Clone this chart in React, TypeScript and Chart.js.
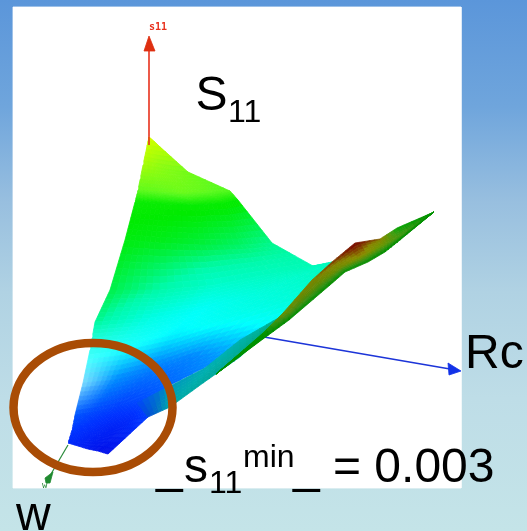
import React, { useEffect, useRef } from "react";
import { Chart, registerables } from "chart.js";

Chart.register(...registerables);

// Plot frame
const panelX = [13, 461, 461, 13, 13];
const panelY = [7, 7, 488, 488, 7];

// Main S11 surface: rows run from the far corner to the near corner, columns from left edge to ridge
const surfaceX = [
  [149, 149, 149, 149, 149],
  [143, 154, 165, 177, 188],
  [138, 160, 183, 207, 230],
  [135, 165, 195, 225, 238],
  [125, 160, 200, 240, 272],
  [110, 160, 215, 265, 313],
  [95, 150, 200, 255, 332],
  [90, 130, 175, 225, 300],
  [83, 115, 150, 190, 250],
  [75, 95, 118, 140, 170],
  [72, 90, 110, 130, 148],
  [68, 78, 88, 98, 108],
];
const surfaceY = [
  [137, 137, 137, 137, 137],
  [165, 167, 169, 171, 172],
  [190, 192, 193, 192, 191],
  [202, 204, 205, 203, 200],
  [240, 243, 245, 245, 243],
  [290, 290, 285, 275, 266],
  [322, 318, 310, 295, 262],
  [350, 345, 335, 320, 298],
  [383, 380, 372, 358, 345],
  [415, 412, 407, 398, 385],
  [430, 432, 430, 420, 417],
  [443, 446, 449, 451, 454],
];
const surfaceValue = [
  [0.87, 0.87, 0.87, 0.87, 0.87],
  [0.81, 0.79, 0.77, 0.76, 0.75],
  [0.73, 0.73, 0.74, 0.73, 0.71],
  [0.63, 0.63, 0.63, 0.63, 0.63],
  [0.61, 0.6, 0.58, 0.55, 0.52],
  [0.57, 0.5, 0.44, 0.46, 0.48],
  [0.52, 0.4, 0.36, 0.41, 0.47],
  [0.38, 0.36, 0.34, 0.37, 0.42],
  [0.29, 0.25, 0.22, 0.24, 0.3],
  [0.17, 0.15, 0.14, 0.16, 0.2],
  [0.13, 0.1, 0.08, 0.1, 0.14],
  [0.1, 0.08, 0.06, 0.04, 0.03],
];
const surfaceShade = [
  [1, 1, 1, 1, 1],
  [1, 1, 1, 1, 1],
  [1, 1, 1, 1, 1],
  [1, 1, 1, 1, 1],
  [1, 1, 1, 1, 1],
  [1, 1, 1, 1, 1],
  [1, 1, 1, 1, 1],
  [1.1, 1.05, 1, 1, 1],
  [1.25, 1, 1, 1, 1],
  [1, 1, 1, 1, 1],
  [1, 1, 1, 1, 1],
  [1, 1, 1, 1, 1],
];

// Shaded side strip along the lower edge
const stripX = [
  [137, 148],
  [170, 170],
  [205, 203],
  [240, 240],
  [280, 280],
];
const stripY = [
  [403, 417],
  [386, 407],
  [368, 383],
  [340, 357],
  [317, 320],
];
const stripValue = [
  [0.15, 0.17],
  [0.3, 0.35],
  [0.34, 0.37],
  [0.36, 0.42],
  [0.45, 0.5],
];
const stripShade = [
  [0.98, 0.85],
  [0.75, 0.66],
  [0.7, 0.66],
  [0.7, 0.66],
  [0.72, 0.66],
];

// Ridge toward high Rc: upper edge, crest, lower edge
const ridgeX = [
  [216, 216, 216],
  [263, 263, 263],
  [283, 290, 289],
  [312, 320, 330],
  [332, 340, 345],
  [355, 362, 368],
  [380, 385, 385],
  [397, 402, 400],
  [434, 434, 434],
];
const ridgeY = [
  [374, 374, 374],
  [333, 336, 339],
  [313, 314, 320],
  [280, 284, 285],
  [262, 268, 272],
  [243, 255, 262],
  [239, 245, 252],
  [228, 235, 240],
  [212, 212, 212],
];
const ridgeValue = [
  [0.62, 0.62, 0.62],
  [0.62, 0.62, 0.62],
  [0.85, 0.75, 0.62],
  [0.93, 0.8, 0.62],
  [0.97, 0.85, 0.62],
  [1, 0.93, 0.62],
  [0.95, 0.8, 0.62],
  [0.62, 0.75, 0.62],
  [0.62, 0.62, 0.62],
];
const ridgeShade = [
  [0.62, 0.62, 0.62],
  [0.65, 0.62, 0.62],
  [0.55, 0.55, 0.6],
  [0.5, 0.55, 0.6],
  [0.5, 0.55, 0.6],
  [0.47, 0.55, 0.6],
  [0.5, 0.6, 0.6],
  [0.7, 0.6, 0.6],
  [0.62, 0.62, 0.62],
];

// Colour scale: value, r, g, b
const scaleStops = [
  [0, 0, 0, 225],
  [0.12, 0, 50, 255],
  [0.25, 0, 140, 255],
  [0.35, 0, 255, 255],
  [0.5, 0, 250, 170],
  [0.62, 0, 235, 0],
  [0.72, 90, 250, 30],
  [0.85, 200, 255, 0],
  [0.92, 255, 255, 0],
  [1, 255, 0, 0],
];

// Axes
const s11AxisX = [149, 149];
const s11AxisY = [145, 50];
const s11HeadX = [149, 144, 155];
const s11HeadY = [36, 51, 51];
const rcAxisX = [264, 450];
const rcAxisY = [337, 369];
const rcHeadX = [461, 448, 449];
const rcHeadY = [371, 363, 375];
const wAxisX = [68, 51];
const wAxisY = [445, 474];
const wHeadX = [53, 45, 46, 50];
const wHeadY = [472, 478, 483, 483];

const backgroundStops = [
  [0, "#5b96da"],
  [0.2, "#6fa5dc"],
  [0.38, "#98bfdf"],
  [0.55, "#b0d2e3"],
  [0.75, "#bedde7"],
  [1, "#c4e4e8"],
];

const labels = [
  { text: "S", x: 195.5, y: 110, font: "48px 'Liberation Sans'", color: "#000" },
  { text: "11", x: 228, y: 122, font: "32px 'Liberation Sans'", color: "#000" },
  { text: "_", x: 156, y: 482, font: "48px 'Liberation Sans'", color: "#000" },
  { text: "s", x: 184, y: 482, font: "48px 'Liberation Sans'", color: "#000" },
  { text: "11", x: 209, y: 493, font: "32px 'Liberation Sans'", color: "#000" },
  { text: "min", x: 243, y: 467, font: "32px 'Liberation Sans'", color: "#000" },
  { text: "_", x: 293, y: 482, font: "48px 'Liberation Sans'", color: "#000" },
  { text: "= 0.003", x: 333, y: 482, font: "48px 'Liberation Sans'", color: "#000" },
  { text: "Rc", x: 465, y: 368, font: "48px 'Liberation Sans'", color: "#000" },
  { text: "w", x: 16, y: 530, font: "48px 'Liberation Sans'", color: "#000" },
  { text: "s11", x: 149, y: 30, font: "bold 10px 'DejaVu Sans Mono'", color: "#e8301c" },
  { text: "w", x: 42, y: 488, font: "9px 'DejaVu Sans Mono'", color: "#2a8a3a" },
];

const ringColor = "#a94c05";

function colourAt(value: number, shade: number) {
  let i = 0;
  while (i < scaleStops.length - 2 && value > scaleStops[i + 1][0]) i++;
  const a = scaleStops[i];
  const b = scaleStops[i + 1];
  const t = Math.min(1, Math.max(0, (value - a[0]) / (b[0] - a[0])));
  const c = [1, 2, 3].map((k) => {
    const base = a[k] + (b[k] - a[k]) * t;
    // shade below 1 darkens, above 1 adds a specular highlight toward white
    return Math.round(shade <= 1 ? base * shade : base + (255 - base) * (shade - 1) * 2);
  });
  return `rgb(${c[0]},${c[1]},${c[2]})`;
}

function bilinear(m: number[][], i: number, j: number, u: number, v: number) {
  return (
    m[i][j] * (1 - u) * (1 - v) +
    m[i + 1][j] * u * (1 - v) +
    m[i][j + 1] * (1 - u) * v +
    m[i + 1][j + 1] * u * v
  );
}

function polygon(xs: number[], ys: number[], color: any) {
  const pts = xs.map((x, i) => ({ x, y: ys[i] }));
  pts.push({ ...pts[0] });
  return {
    data: pts,
    showLine: true,
    fill: "shape",
    backgroundColor: color,
    borderColor: color,
    borderWidth: 0.8,
    pointRadius: 0,
    tension: 0,
  };
}

function stroke(xs: number[], ys: number[], color: string, width: number) {
  return {
    data: xs.map((x, i) => ({ x, y: ys[i] })),
    showLine: true,
    fill: false,
    borderColor: color,
    borderWidth: width,
    pointRadius: 0,
    tension: 0,
  };
}

function meshDatasets(X: number[][], Y: number[][], V: number[][], S: number[][], n: number) {
  const out: any[] = [];
  for (let i = 0; i < X.length - 1; i++) {
    for (let j = 0; j < X[0].length - 1; j++) {
      for (let a = 0; a < n; a++) {
        for (let b = 0; b < n; b++) {
          const u0 = a / n;
          const u1 = (a + 1) / n;
          const v0 = b / n;
          const v1 = (b + 1) / n;
          const xs = [
            bilinear(X, i, j, u0, v0),
            bilinear(X, i, j, u0, v1),
            bilinear(X, i, j, u1, v1),
            bilinear(X, i, j, u1, v0),
          ];
          const ys = [
            bilinear(Y, i, j, u0, v0),
            bilinear(Y, i, j, u0, v1),
            bilinear(Y, i, j, u1, v1),
            bilinear(Y, i, j, u1, v0),
          ];
          const um = (u0 + u1) / 2;
          const vm = (v0 + v1) / 2;
          out.push(
            polygon(xs, ys, colourAt(bilinear(V, i, j, um, vm), bilinear(S, i, j, um, vm)))
          );
        }
      }
    }
  }
  return out;
}

const backdrop = {
  id: "backdrop",
  beforeDatasetsDraw(chart: any) {
    const { ctx, scales } = chart;
    const g = ctx.createLinearGradient(0, scales.y.getPixelForValue(0), 0, scales.y.getPixelForValue(531));
    backgroundStops.forEach((s) => g.addColorStop(s[0] as number, s[1] as string));
    ctx.save();
    ctx.fillStyle = g;
    ctx.fillRect(0, 0, chart.width, chart.height);
    ctx.restore();
  },
  afterDatasetsDraw(chart: any) {
    const { ctx, scales } = chart;
    const px = (v: number) => scales.x.getPixelForValue(v);
    const py = (v: number) => scales.y.getPixelForValue(v);
    ctx.save();
    ctx.strokeStyle = ringColor;
    ctx.lineWidth = 8.5;
    ctx.beginPath();
    ctx.ellipse(px(93), py(407.5), 79.5, 64.5, 0, 0, Math.PI * 2);
    ctx.stroke();
    ctx.textBaseline = "alphabetic";
    ctx.textAlign = "left";
    labels.forEach((l) => {
      ctx.font = l.font;
      ctx.fillStyle = l.color;
      ctx.fillText(l.text, px(l.x), py(l.y));
    });
    ctx.restore();
  },
};

export default function App() {
  const ref = useRef<HTMLCanvasElement>(null);
  useEffect(() => {
    document.body.style.margin = "0";
    const painted: any[] = [
      polygon(panelX, panelY, "#ffffff"),
      stroke(s11AxisX, s11AxisY, "#e8301c", 1.6),
      polygon(s11HeadX, s11HeadY, "#de2f10"),
      stroke(rcAxisX, rcAxisY, "#1c34d8", 1.5),
      polygon(rcHeadX, rcHeadY, "#1232e8"),
      stroke(wAxisX, wAxisY, "#2a8a3a", 1.2),
      polygon(wHeadX, wHeadY, "#1f8a30"),
      ...meshDatasets(surfaceX, surfaceY, surfaceValue, surfaceShade, 7),
      ...meshDatasets(stripX, stripY, stripValue, stripShade, 6),
      ...meshDatasets(ridgeX, ridgeY, ridgeValue, ridgeShade, 5),
      stroke(s11AxisX, [145, 137], "#e8301c", 1.6),
    ];
    const chart = new Chart(ref.current as HTMLCanvasElement, {
      type: "scatter",
      data: { datasets: painted.reverse() },
      options: {
        animation: false,
        responsive: false,
        events: [],
        layout: { padding: 0 },
        plugins: { legend: { display: false }, tooltip: { enabled: false }, title: { display: false } },
        scales: {
          x: { type: "linear", min: 0, max: 527, display: false },
          y: { type: "linear", min: 0, max: 531, reverse: true, display: false },
        },
      },
      plugins: [backdrop],
    } as any);
    return () => chart.destroy();
  }, []);
  return <canvas ref={ref} width={527} height={531} style={{ display: "block" }} />;
}
